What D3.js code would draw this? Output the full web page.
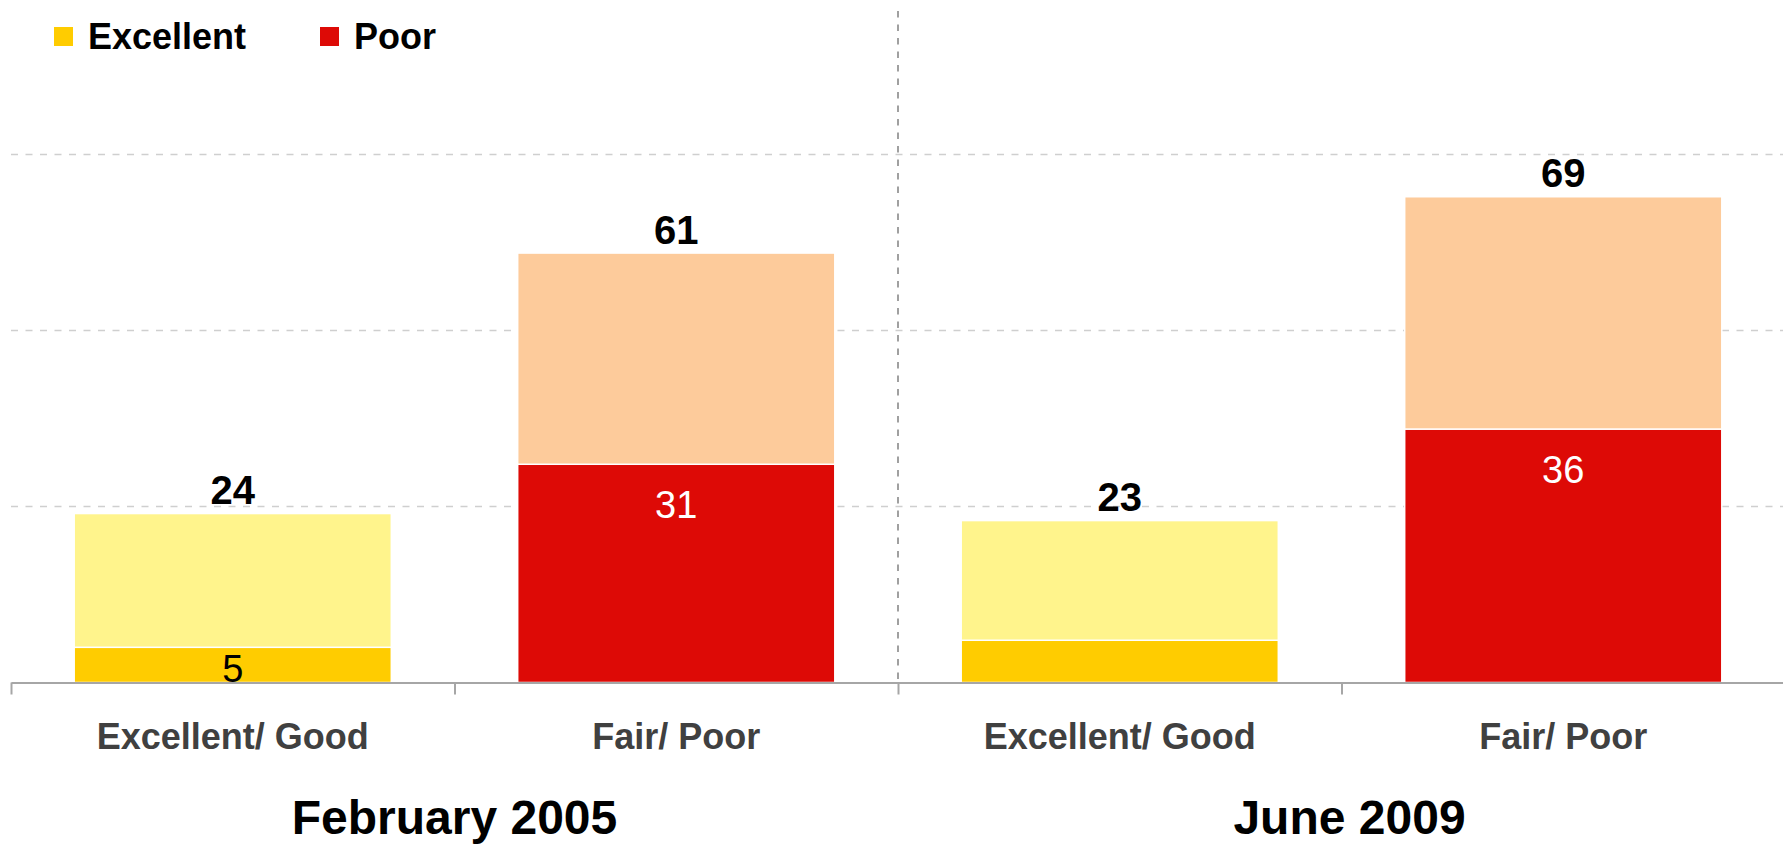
<!DOCTYPE html>
<html>
<head>
<meta charset="utf-8">
<script src="https://cdn.jsdelivr.net/npm/d3@7"></script>
<style>
  body { margin: 0; background: #fff; }
  svg { display: block; font-family: "Liberation Sans", Arial, sans-serif; }
</style>
</head>
<body>
<svg id="chart" width="1783" height="845"></svg>
<script>
var categories = ["Excellent/ Good", "Fair/ Poor", "Excellent/ Good", "Fair/ Poor"];
var groups = ["February 2005", "June 2009"];
var darkValues = [5, 31, 6, 36];      // Excellent / Poor
var lightValues = [19, 30, 17, 33];   // Good / Fair
var totals = [24, 61, 23, 69];
var darkLabels = ["5", "31", "", "36"];
var gridTicks = [25, 50, 75];
var legendItems = ["Excellent", "Poor"];

var darkColors = ["#ffcc00", "#dd0a06"];
var lightColors = ["#fff48c", "#fdcb9b"];
var darkText = ["#000", "#fff"];

var width = 1783,
    left = 11,
    right = 1785,
    baseY = 682.5;

var svg = d3.select("#chart");

var x = d3.scaleBand()
    .domain(d3.range(categories.length))
    .range([left, right])
    .paddingInner(0.285)
    .paddingOuter(0.1425);

var edge = d3.scaleLinear().domain([0, categories.length]).range([left, right]);

var y = d3.scaleLinear().domain([0, 75]).range([baseY, baseY - 75 * 7.04]);

// gridlines
svg.append("g")
  .selectAll("line")
  .data(gridTicks)
  .join("line")
    .attr("x1", left).attr("x2", width)
    .attr("y1", function(d) { return y(d); })
    .attr("y2", function(d) { return y(d); })
    .attr("stroke", "#cfcfcf")
    .attr("stroke-width", 1.5)
    .attr("stroke-dasharray", "7,7.5");

// divider between the two surveys
svg.append("line")
    .attr("x1", edge(2)).attr("x2", edge(2))
    .attr("y1", 11).attr("y2", baseY)
    .attr("stroke", "#a0a0a0")
    .attr("stroke-width", 2)
    .attr("stroke-dasharray", "6.5,7");

// bars
var bars = svg.append("g");
categories.forEach(function(c, i) {
    var kind = i % 2;
    bars.append("rect")
        .attr("x", x(i)).attr("width", x.bandwidth())
        .attr("y", y(darkValues[i]))
        .attr("height", y(0) - y(darkValues[i]))
        .attr("fill", darkColors[kind])
        .attr("stroke", "#fff").attr("stroke-width", 1.5);
    bars.append("rect")
        .attr("x", x(i)).attr("width", x.bandwidth())
        .attr("y", y(totals[i]))
        .attr("height", y(darkValues[i]) - y(totals[i]))
        .attr("fill", lightColors[kind])
        .attr("stroke", "#fff").attr("stroke-width", 1.5);

    bars.append("text")
        .attr("x", x(i) + x.bandwidth() / 2)
        .attr("y", Math.min(y(darkValues[i]) + 53.5, baseY - 1))
        .attr("text-anchor", "middle")
        .attr("font-size", 38)
        .attr("fill", darkText[kind])
        .text(darkLabels[i]);

    bars.append("text")
        .attr("x", x(i) + x.bandwidth() / 2)
        .attr("y", y(totals[i]) - 9.5)
        .attr("text-anchor", "middle")
        .attr("font-size", 40)
        .attr("font-weight", "bold")
        .attr("fill", "#000")
        .text(totals[i]);
});

// x axis, ticks at category edges
var axis = svg.append("g")
    .attr("transform", "translate(0," + baseY + ")")
    .call(d3.axisBottom(edge).tickValues([0, 1, 2, 3]).tickFormat("").tickSize(12).tickSizeOuter(0));
axis.select(".domain").attr("stroke", "#a6a6a6").attr("stroke-width", 2);
axis.selectAll(".tick line").attr("stroke", "#a6a6a6").attr("stroke-width", 2);

// category labels
svg.append("g")
  .selectAll("text")
  .data(categories)
  .join("text")
    .attr("x", function(d, i) { return x(i) + x.bandwidth() / 2; })
    .attr("y", 749)
    .attr("text-anchor", "middle")
    .attr("font-size", 36)
    .attr("font-weight", "bold")
    .attr("fill", "#404040")
    .text(function(d) { return d; });

// survey labels
svg.append("g")
  .selectAll("text")
  .data(groups)
  .join("text")
    .attr("x", function(d, i) { return (edge(i * 2) + edge(i * 2 + 2)) / 2 + i * 8; })
    .attr("y", 834)
    .attr("text-anchor", "middle")
    .attr("font-size", 48)
    .attr("font-weight", "bold")
    .attr("fill", "#000")
    .text(function(d) { return d; });

// legend
var legendX = [54, 320];
var legend = svg.append("g")
  .selectAll("g")
  .data(legendItems)
  .join("g")
    .attr("transform", function(d, i) { return "translate(" + legendX[i] + ",27)"; });
legend.append("rect")
    .attr("width", 19).attr("height", 19)
    .attr("fill", function(d, i) { return darkColors[i]; });
legend.append("text")
    .attr("x", 34).attr("y", 22)
    .attr("font-size", 36)
    .attr("font-weight", "bold")
    .attr("fill", "#000")
    .text(function(d) { return d; });
</script>
</body>
</html>
